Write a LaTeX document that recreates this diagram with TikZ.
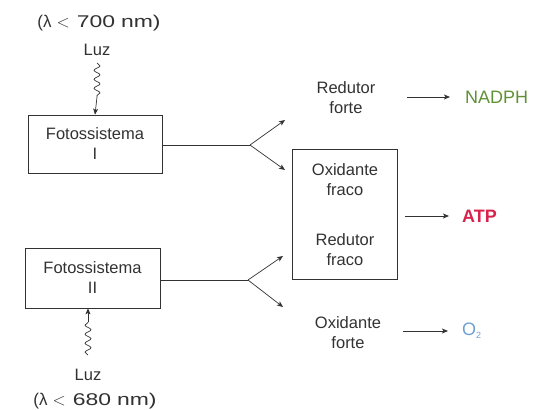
\documentclass[tikz,border=0pt]{standalone}
\usepackage{fontspec}
\setmainfont{Liberation Sans}
\newfontfamily\widefont[FakeStretch=1.35]{Liberation Sans}
\usetikzlibrary{arrows.meta,decorations.pathmorphing}
\definecolor{ink}{RGB}{50,50,50}
\definecolor{nadphgreen}{RGB}{95,145,55}
\definecolor{atpred}{RGB}{215,35,75}
\definecolor{oxblue}{RGB}{110,160,210}
\begin{document}
\begin{tikzpicture}[x=1pt,y=-1pt,
  lbl/.style={font=\fontsize{16.5}{20}\selectfont, text=ink, align=center, inner sep=0pt},
  biglbl/.style={font=\fontsize{17}{20}\selectfont, text=ink, inner sep=0pt},
  boxed/.style={draw=ink, line width=0.7pt, lbl},
  conn/.style={draw=ink, line width=0.7pt},
  arr/.style={conn, -{Stealth[length=6pt,width=5pt,inset=1.5pt]}},
  wave/.style={conn, decorate, decoration={snake, amplitude=3pt, segment length=9pt}},
  product/.style={font=\fontsize{18}{20}\selectfont, inner sep=0pt, anchor=west}]
\useasboundingbox (0,0) rectangle (536,410);
% top light
\node[biglbl] (lam1) at (99,23) {(λ\hspace{5pt}$<$\hspace{7pt}{\widefont 700\hspace{6pt}nm)}};
\node[lbl] (luz1) at (97,50) {Luz};
\coordinate (s1a) at (97,63);
\coordinate (s1b) at (97,97);
\draw[wave] (s1a) -- (s1b);
\node[boxed, minimum width=134pt, minimum height=58pt] (fs1) at (95,144) {Fotossistema\\I};
\draw[arr] (s1b) -- (fs1.north);
% fork 1
\coordinate (f1) at (250,145);
\coordinate (f1u) at (285,120);
\coordinate (f1d) at (285,170);
\draw[conn] (fs1.east |- f1) -- (f1);
\draw[arr] (f1) -- (f1u);
\draw[arr] (f1) -- (f1d);
\node[lbl] (rf) at (346,98) {Redutor\\forte};
\coordinate (a1s) at (407,97);
\coordinate (a1e) at (450,97);
\draw[arr] (a1s) -- (a1e);
\node[product, text=nadphgreen] (nadph) at (465,97) {NADPH};
% middle box
\node[draw=ink, line width=0.7pt, minimum width=105pt, minimum height=130pt] (mid) at (344.5,214) {};
\node[lbl] (ofr) at (345,180) {Oxidante\\fraco};
\node[lbl] (rfr) at (345,250) {Redutor\\fraco};
\coordinate (a2s) at (405,216);
\coordinate (a2e) at (449,216);
\draw[arr] (a2s) -- (a2e);
\node[product, text=atpred, font=\fontsize{18}{20}\selectfont\bfseries] (atp) at (462,216) {ATP};
% fotossistema II
\node[boxed, minimum width=135pt, minimum height=60pt] (fs2) at (92.5,278) {Fotossistema\\II};
\coordinate (f2) at (248,280);
\coordinate (f2u) at (283,256);
\coordinate (f2d) at (283,307);
\draw[conn] (fs2.east |- f2) -- (f2);
\draw[arr] (f2) -- (f2u);
\draw[arr] (f2) -- (f2d);
\node[lbl] (ofo) at (348,333) {Oxidante\\forte};
\coordinate (a3s) at (403,331);
\coordinate (a3e) at (448,331);
\draw[arr] (a3s) -- (a3e);
\node[product, text=oxblue, font=\fontsize{18}{20}\selectfont] (o2) at (462,331) {O\raisebox{-3pt}{\fontsize{9}{10}\selectfont 2}};
% bottom light
\coordinate (s2a) at (88,355);
\coordinate (s2b) at (88,322);
\draw[wave] (s2a) -- (s2b);
\draw[arr] (s2b) -- (fs2.south -| s2b);
\node[lbl] (luz2) at (88,375) {Luz};
\node[biglbl] (lam2) at (95,401) {(λ\hspace{5pt}$<$\hspace{7pt}{\widefont 680\hspace{6pt}nm)}};
\end{tikzpicture}
\end{document}
